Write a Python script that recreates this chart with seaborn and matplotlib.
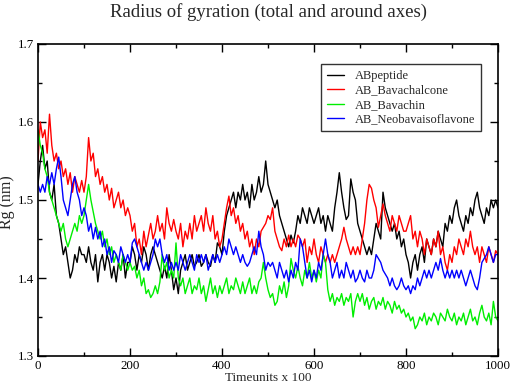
import numpy as np
import pandas as pd
import matplotlib
matplotlib.use("Agg")
import matplotlib.pyplot as plt
import seaborn as sns
from matplotlib.ticker import MultipleLocator

# time axis (Timeunits x 100), sampled every 5 units
time = list(range(0, 1001, 5))

abpeptide = [
    1.52, 1.55, 1.57, 1.54, 1.55, 1.51, 1.50, 1.52, 1.48, 1.47, 1.45, 1.43, 1.44, 1.42, 1.40, 1.41, 1.43, 1.42, 1.44, 1.43,
    1.43, 1.42, 1.44, 1.42, 1.41, 1.43, 1.395, 1.42, 1.43, 1.41, 1.43, 1.42, 1.40, 1.415, 1.395, 1.42, 1.41, 1.43, 1.40, 1.42,
    1.42, 1.44, 1.43, 1.41, 1.43, 1.42, 1.44, 1.43, 1.41, 1.43, 1.44, 1.43, 1.42, 1.41, 1.40, 1.415, 1.40, 1.43, 1.41, 1.385,
    1.40, 1.38, 1.41, 1.42, 1.43, 1.41, 1.42, 1.43, 1.415, 1.42, 1.43, 1.415, 1.42, 1.43, 1.42, 1.415, 1.43, 1.42, 1.445, 1.44,
    1.43, 1.46, 1.48, 1.49, 1.50, 1.51, 1.49, 1.51, 1.50, 1.52, 1.50, 1.51, 1.49, 1.52, 1.50, 1.51, 1.53, 1.51, 1.52, 1.55,
    1.52, 1.51, 1.50, 1.49, 1.50, 1.48, 1.47, 1.46, 1.45, 1.44, 1.455, 1.445, 1.46, 1.48, 1.47, 1.49, 1.48, 1.47, 1.49, 1.48,
    1.47, 1.48, 1.49, 1.47, 1.48, 1.46, 1.48, 1.47, 1.46, 1.49, 1.51, 1.535, 1.51, 1.49, 1.475, 1.48, 1.527, 1.51, 1.50, 1.47,
    1.46, 1.45, 1.44, 1.43, 1.44, 1.43, 1.45, 1.47, 1.46, 1.45, 1.51, 1.49, 1.48, 1.47, 1.46, 1.47, 1.45, 1.46, 1.44, 1.45,
    1.43, 1.42, 1.40, 1.42, 1.43, 1.41, 1.43, 1.44, 1.42, 1.45, 1.44, 1.43, 1.45, 1.44, 1.46, 1.45, 1.44, 1.47, 1.46, 1.48,
    1.47, 1.49, 1.50, 1.48, 1.47, 1.46, 1.48, 1.47, 1.49, 1.48, 1.50, 1.51, 1.49, 1.48, 1.47, 1.49, 1.48, 1.50, 1.49, 1.50,
    1.49,
]

ab_bavachalcone = [
    1.55, 1.60, 1.58, 1.59, 1.56, 1.61, 1.57, 1.55, 1.56, 1.54, 1.55, 1.53, 1.54, 1.52, 1.535, 1.51, 1.53, 1.52, 1.51, 1.525,
    1.51, 1.53, 1.58, 1.55, 1.56, 1.53, 1.54, 1.52, 1.53, 1.51, 1.52, 1.50, 1.515, 1.49, 1.50, 1.51, 1.49, 1.50, 1.48, 1.49,
    1.48, 1.46, 1.47, 1.44, 1.45, 1.43, 1.46, 1.44, 1.455, 1.47, 1.45, 1.46, 1.48, 1.46, 1.47, 1.45, 1.49, 1.47, 1.46, 1.475,
    1.46, 1.45, 1.47, 1.44, 1.46, 1.45, 1.47, 1.45, 1.48, 1.46, 1.47, 1.48, 1.46, 1.49, 1.47, 1.46, 1.48, 1.45, 1.46, 1.44,
    1.45, 1.47, 1.49, 1.505, 1.48, 1.49, 1.47, 1.48, 1.46, 1.47, 1.45, 1.46, 1.44, 1.45, 1.43, 1.45, 1.44, 1.46, 1.465, 1.47,
    1.48, 1.475, 1.49, 1.46, 1.45, 1.44, 1.435, 1.45, 1.44, 1.455, 1.44, 1.45, 1.44, 1.455, 1.45, 1.44, 1.45, 1.42, 1.44, 1.43,
    1.45, 1.43, 1.42, 1.44, 1.43, 1.42, 1.43, 1.42, 1.43, 1.42, 1.43, 1.44, 1.45, 1.465, 1.45, 1.44, 1.43, 1.44, 1.43, 1.44,
    1.43, 1.45, 1.47, 1.50, 1.52, 1.515, 1.50, 1.49, 1.465, 1.48, 1.495, 1.48, 1.47, 1.46, 1.48, 1.47, 1.46, 1.48, 1.47, 1.46,
    1.46, 1.47, 1.48, 1.45, 1.46, 1.44, 1.46, 1.45, 1.43, 1.45, 1.44, 1.43, 1.45, 1.44, 1.46, 1.43, 1.44, 1.42, 1.41, 1.43,
    1.42, 1.44, 1.43, 1.45, 1.44, 1.43, 1.45, 1.44, 1.46, 1.44, 1.43, 1.44, 1.42, 1.44, 1.43, 1.42, 1.44, 1.43, 1.42, 1.435,
    1.43,
]

ab_bavachin = [
    1.59, 1.57, 1.56, 1.54, 1.53, 1.51, 1.50, 1.49, 1.48, 1.47, 1.46, 1.47, 1.45, 1.44, 1.45, 1.46, 1.47, 1.46, 1.48, 1.47,
    1.48, 1.50, 1.52, 1.50, 1.485, 1.47, 1.46, 1.45, 1.46, 1.44, 1.45, 1.43, 1.44, 1.42, 1.43, 1.42, 1.41, 1.43, 1.42, 1.41,
    1.42, 1.41, 1.415, 1.40, 1.41, 1.39, 1.40, 1.38, 1.385, 1.375, 1.38, 1.39, 1.38, 1.395, 1.43, 1.41, 1.42, 1.40, 1.41, 1.40,
    1.445, 1.40, 1.39, 1.40, 1.38, 1.39, 1.40, 1.38, 1.39, 1.385, 1.40, 1.38, 1.39, 1.37, 1.385, 1.40, 1.38, 1.39, 1.375, 1.39,
    1.38, 1.39, 1.40, 1.38, 1.39, 1.385, 1.40, 1.39, 1.38, 1.395, 1.38, 1.39, 1.40, 1.38, 1.39, 1.38, 1.395, 1.40, 1.42, 1.40,
    1.385, 1.375, 1.38, 1.365, 1.37, 1.39, 1.38, 1.395, 1.375, 1.39, 1.425, 1.41, 1.40, 1.415, 1.40, 1.39, 1.41, 1.40, 1.42, 1.40,
    1.41, 1.395, 1.41, 1.40, 1.43, 1.42, 1.385, 1.37, 1.38, 1.365, 1.375, 1.37, 1.38, 1.365, 1.375, 1.37, 1.38, 1.35, 1.37, 1.38,
    1.37, 1.38, 1.365, 1.375, 1.36, 1.37, 1.375, 1.36, 1.37, 1.365, 1.375, 1.36, 1.37, 1.365, 1.355, 1.37, 1.36, 1.365, 1.355, 1.36,
    1.35, 1.355, 1.345, 1.35, 1.335, 1.34, 1.35, 1.345, 1.355, 1.34, 1.35, 1.345, 1.355, 1.35, 1.34, 1.355, 1.35, 1.345, 1.36, 1.35,
    1.345, 1.355, 1.34, 1.35, 1.345, 1.355, 1.34, 1.35, 1.36, 1.345, 1.35, 1.34, 1.355, 1.365, 1.35, 1.345, 1.355, 1.34, 1.37, 1.35,
    1.345,
]

ab_neobavaisoflavone = [
    1.52, 1.51, 1.52, 1.51, 1.53, 1.52, 1.535, 1.52, 1.54, 1.555, 1.53, 1.50, 1.49, 1.48, 1.50, 1.52, 1.53, 1.51, 1.50, 1.48,
    1.49, 1.48, 1.46, 1.47, 1.45, 1.465, 1.45, 1.46, 1.44, 1.45, 1.43, 1.44, 1.42, 1.435, 1.43, 1.42, 1.44, 1.43, 1.42, 1.43,
    1.42, 1.445, 1.45, 1.44, 1.43, 1.42, 1.41, 1.42, 1.41, 1.42, 1.43, 1.45, 1.44, 1.45, 1.43, 1.42, 1.43, 1.41, 1.42, 1.41,
    1.42, 1.41, 1.43, 1.42, 1.41, 1.42, 1.43, 1.42, 1.41, 1.43, 1.42, 1.43, 1.42, 1.43, 1.41, 1.42, 1.43, 1.42, 1.43, 1.42,
    1.43, 1.44, 1.43, 1.45, 1.44, 1.43, 1.44, 1.43, 1.42, 1.43, 1.42, 1.415, 1.42, 1.43, 1.44, 1.43, 1.46, 1.44, 1.43, 1.41,
    1.42, 1.415, 1.42, 1.41, 1.40, 1.42, 1.41, 1.40, 1.41, 1.395, 1.41, 1.40, 1.42, 1.41, 1.45, 1.44, 1.42, 1.40, 1.41, 1.395,
    1.41, 1.40, 1.42, 1.41, 1.43, 1.45, 1.43, 1.42, 1.40, 1.41, 1.42, 1.40, 1.41, 1.40, 1.42, 1.41, 1.40, 1.41, 1.395, 1.40,
    1.41, 1.40, 1.395, 1.41, 1.40, 1.40, 1.41, 1.43, 1.425, 1.42, 1.41, 1.405, 1.40, 1.39, 1.40, 1.39, 1.385, 1.39, 1.40, 1.39,
    1.385, 1.39, 1.38, 1.39, 1.385, 1.40, 1.39, 1.40, 1.41, 1.40, 1.41, 1.40, 1.41, 1.42, 1.41, 1.425, 1.41, 1.40, 1.41, 1.40,
    1.41, 1.40, 1.41, 1.40, 1.41, 1.40, 1.39, 1.40, 1.41, 1.40, 1.39, 1.385, 1.40, 1.42, 1.425, 1.43, 1.44, 1.43, 1.42, 1.43,
    1.43,
]

series_names = ["ABpeptide", "AB_Bavachalcone", "AB_Bavachin", "AB_Neobavaisoflavone"]
series_values = [abpeptide, ab_bavachalcone, ab_bavachin, ab_neobavaisoflavone]
colors = {"ABpeptide": "#000000", "AB_Bavachalcone": "#ff0000",
          "AB_Bavachin": "#00ee00", "AB_Neobavaisoflavone": "#0000ff"}

frames = []
for name, vals in zip(series_names, series_values):
    frames.append(pd.DataFrame({"time": time, "rg": vals, "series": name}))
df = pd.concat(frames, ignore_index=True)

sns.set_theme(style="ticks")
plt.rcParams["font.family"] = ["Liberation Serif", "DejaVu Serif"]

fig = plt.figure(figsize=(5.12, 3.84), dpi=100)
ax = fig.add_axes([38 / 512, 1 - 356 / 384, 460 / 512, 312 / 384])

sns.lineplot(data=df, x="time", y="rg", hue="series", hue_order=series_names,
             palette=colors, estimator=None, linewidth=1.0, ax=ax)

ax.set_xlim(0, 1000)
ax.set_ylim(1.3, 1.7)
ax.xaxis.set_major_locator(MultipleLocator(200))
ax.xaxis.set_minor_locator(MultipleLocator(100))
ax.yaxis.set_major_locator(MultipleLocator(0.1))
ax.yaxis.set_minor_locator(MultipleLocator(0.05))
ax.tick_params(which="both", direction="in", top=True, right=True, colors="black", labelsize=9.3)
ax.tick_params(which="major", length=5.5, width=1, pad=3)
ax.tick_params(which="minor", length=3, width=1)
for sp in ax.spines.values():
    sp.set_linewidth(1.2)
    sp.set_color("black")

ax.set_xlabel("")
ax.set_ylabel("")
fig.text(268 / 512, 1 - 378 / 384, "Timeunits x 100", ha="center", va="center", fontsize=9.5)
fig.text(7.5 / 512, 1 - 202 / 384, "Rg (nm)", ha="center", va="center",
         rotation=90, fontsize=11.5)
fig.text(268 / 512, 1 - 12 / 384, "Radius of gyration (total and around axes)",
         ha="center", va="center", fontsize=13.5)

sns.move_legend(ax, loc="upper left", bbox_to_anchor=(0.615, 0.935), title=None,
                frameon=True, fancybox=False, fontsize=9, handlelength=1.4,
                labelspacing=0.2, borderpad=0.45, handletextpad=0.9, borderaxespad=0)
leg = ax.get_legend()
leg.get_frame().set_edgecolor("black")
leg.get_frame().set_linewidth(1.0)
for line in leg.get_lines():
    line.set_linewidth(1.0)

fig.savefig("out.png", dpi=100)
